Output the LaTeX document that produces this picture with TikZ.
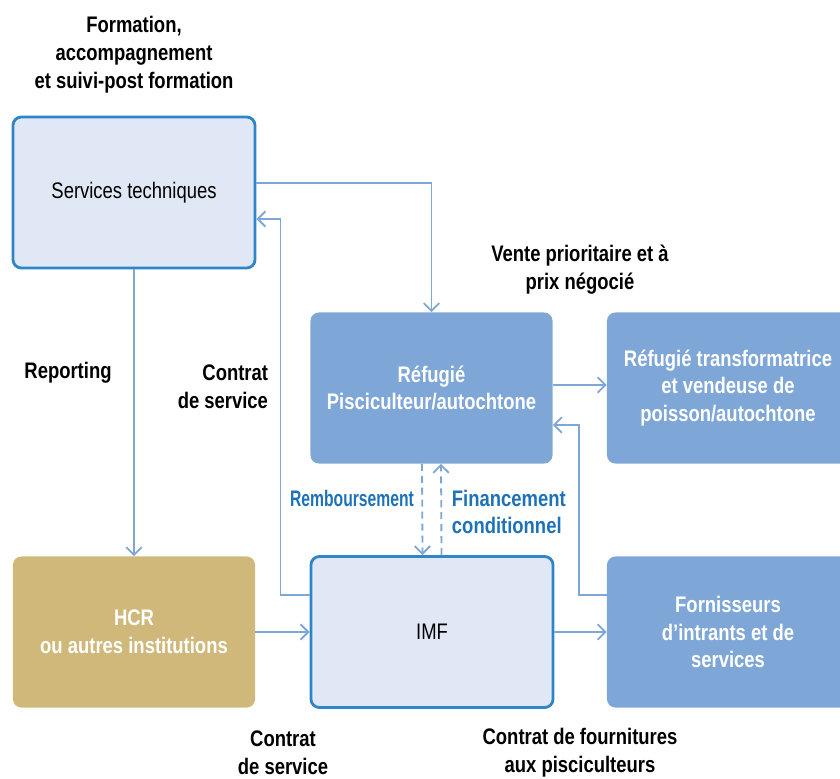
\documentclass[tikz,border=0pt]{standalone}
\usepackage{fontspec}
\setmainfont[FakeStretch=0.82]{Liberation Sans}
\usetikzlibrary{arrows.meta,positioning}
\definecolor{fondclair}{HTML}{E1E8F5}
\definecolor{bordbleu}{HTML}{2E85C8}
\definecolor{bleumoyen}{HTML}{7EA7D8}
\definecolor{ocre}{HTML}{D0B87A}
\definecolor{textebleu}{HTML}{1D72B8}

\begin{document}
\begin{tikzpicture}[x=0.025cm,y=-0.025cm,
  font=\fontsize{16pt}{19.8pt}\selectfont,
  boite/.style={rounded corners=6pt,minimum width=6.05cm,minimum height=3.775cm,inner sep=0pt,align=center},
  clair/.style={boite,fill=fondclair,draw=bordbleu,line width=2pt},
  bleu/.style={boite,fill=bleumoyen,text=white,font=\fontsize{16pt}{19.8pt}\selectfont\bfseries},
  ocreb/.style={boite,fill=ocre,text=white,font=\fontsize{16pt}{19.8pt}\selectfont\bfseries},
  lien/.style={draw=bleumoyen,line width=1.3pt,-{Straight Barb[length=5.5pt,width=11pt]}},
  pointille/.style={lien,dash pattern=on 5pt off 3.5pt},
  etiq/.style={align=center,font=\fontsize{16pt}{19.8pt}\selectfont\bfseries},
  etiqbleu/.style={etiq,text=textebleu}]
\useasboundingbox (0,0) rectangle (840,778);
\clip (0,0) rectangle (840,778);

% boites
\node[clair] (serv) at (134,192.5) {Services techniques};
\node[bleu] (refu) at (431.5,388) {Réfugié\\Pisciculteur/autochtone};
\node[bleu] (trans) at (728,388) {Réfugié transformatrice\\et vendeuse de\\poisson/autochtone};
\node[ocreb] (hcr) at (134,632) {HCR\\ou autres institutions};
\node[clair] (imf) at (432,632) {IMF};
\node[bleu] (forn) at (728,632) {Fornisseurs\\d’intrants et de\\services};

% etiquettes
\node[etiq] (formation) at (134,55) {Formation,\\accompagnement\\et suivi-post formation};
\node[etiq] (reporting) at (68,373) {Reporting};
\node[etiq,anchor=east,align=right] (contrat1) at (273,387) {Contrat\\de service};
\node[etiq] (vente) at (580,270) {Vente prioritaire et à\\prix négocié};
\node[etiqbleu] (rembours) at (352,498) {\scalebox{0.85}[1]{Remboursement}};
\node[etiqbleu,anchor=west,align=left] (financ) at (447,512) {Financement\\conditionnel};
\node[etiq] (contrat2) at (283,753) {Contrat\\de service};
\node[etiq] (fourn) at (580,753) {Contrat de fournitures\\aux pisciculteurs};

% liens
\draw[lien] ([shift={(0,-9.5)}]serv.east) -| (refu.north);
\draw[lien] ([shift={(0,-37)}]imf.west) -- ++(-29,0) |- ([shift={(0,26.5)}]serv.east);
\draw[lien] (serv.south) -- (hcr.north);
\draw[lien] (hcr.east) -- (imf.west);
\draw[lien] (imf.east) -- (forn.west);
\draw[lien] ([shift={(0,-3)}]refu.east) -- ([shift={(0,-3)}]trans.west);
\draw[lien] ([shift={(0,-37)}]forn.west) -- ++(-28,0) |- ([shift={(0,37)}]refu.east);
\draw[pointille] ([shift={(-9.5,0)}]refu.south) -- ([shift={(-9.5,0)}]imf.north);
\draw[pointille] ([shift={(9.5,0)}]imf.north) -- ([shift={(9.5,0)}]refu.south);
\end{tikzpicture}
\end{document}
